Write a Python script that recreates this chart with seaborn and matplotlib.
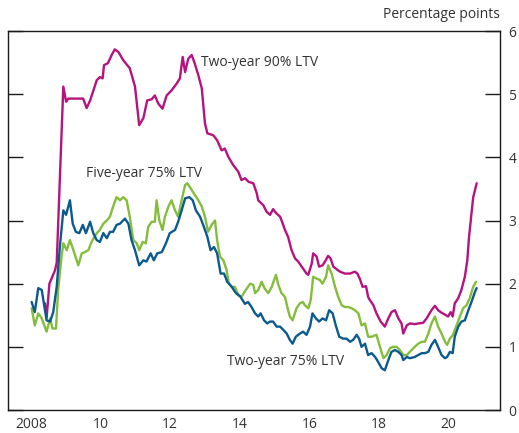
import pandas as pd
import matplotlib.pyplot as plt
import seaborn as sns

# Two-year 90% LTV
years_90 = [2008.40, 2008.45, 2008.53, 2008.69, 2008.74, 2008.93, 2009.01, 2009.07, 2009.50, 2009.60,
            2009.70, 2009.89, 2009.98, 2010.06, 2010.10, 2010.21, 2010.32, 2010.41, 2010.51, 2010.65,
            2010.84, 2010.99, 2011.11, 2011.23, 2011.34, 2011.47, 2011.56, 2011.66, 2011.78, 2011.90,
            2012.04, 2012.19, 2012.28, 2012.36, 2012.43, 2012.52, 2012.62, 2012.71, 2012.81, 2012.91,
            2013.00, 2013.07, 2013.24, 2013.35, 2013.48, 2013.57, 2013.67, 2013.81, 2013.96, 2014.05,
            2014.15, 2014.26, 2014.39, 2014.49, 2014.53, 2014.68, 2014.77, 2014.87, 2014.96, 2015.04,
            2015.16, 2015.23, 2015.30, 2015.39, 2015.49, 2015.59, 2015.68, 2015.78, 2015.92, 2015.97,
            2016.07, 2016.11, 2016.21, 2016.28, 2016.38, 2016.45, 2016.54, 2016.61, 2016.69, 2016.78,
            2016.88, 2017.02, 2017.17, 2017.31, 2017.38, 2017.45, 2017.53, 2017.63, 2017.69, 2017.74,
            2017.84, 2017.93, 2018.05, 2018.17, 2018.27, 2018.36, 2018.46, 2018.56, 2018.65, 2018.70,
            2018.80, 2018.89, 2019.03, 2019.13, 2019.27, 2019.37, 2019.51, 2019.61, 2019.70, 2019.80,
            2019.93, 2019.99, 2020.06, 2020.12, 2020.18, 2020.28, 2020.37, 2020.47, 2020.54, 2020.59,
            2020.66, 2020.71, 2020.81]
spread_90 = [1.69, 1.46, 2.00, 2.21, 2.33, 5.12, 4.88, 4.93, 4.93, 4.78,
             4.90, 5.22, 5.27, 5.25, 5.46, 5.49, 5.62, 5.71, 5.67, 5.54,
             5.41, 5.12, 4.51, 4.62, 4.90, 4.92, 4.98, 4.85, 4.77, 4.98,
             5.06, 5.17, 5.25, 5.59, 5.35, 5.56, 5.62, 5.48, 5.30, 5.09,
             4.54, 4.38, 4.35, 4.27, 4.11, 4.14, 4.01, 3.88, 3.77, 3.64,
             3.67, 3.61, 3.59, 3.43, 3.32, 3.24, 3.14, 3.09, 3.18, 3.12,
             3.06, 2.96, 2.85, 2.74, 2.53, 2.40, 2.35, 2.27, 2.16, 2.14,
             2.32, 2.48, 2.43, 2.27, 2.29, 2.35, 2.44, 2.40, 2.27, 2.23,
             2.19, 2.16, 2.16, 2.19, 2.16, 2.08, 1.95, 1.96, 1.79, 1.74,
             1.66, 1.53, 1.40, 1.32, 1.45, 1.55, 1.58, 1.45, 1.37, 1.21,
             1.34, 1.37, 1.36, 1.37, 1.38, 1.45, 1.58, 1.65, 1.58, 1.54,
             1.50, 1.48, 1.55, 1.48, 1.69, 1.77, 1.90, 2.11, 2.37, 2.74,
             3.11, 3.37, 3.59]

# Five-year 75% LTV
years_5y = [2008.02, 2008.11, 2008.21, 2008.31, 2008.45, 2008.55, 2008.62, 2008.72, 2008.78, 2008.88,
            2008.93, 2009.03, 2009.12, 2009.22, 2009.36, 2009.46, 2009.55, 2009.65, 2009.74, 2009.89,
            2009.98, 2010.08, 2010.18, 2010.27, 2010.36, 2010.46, 2010.56, 2010.65, 2010.75, 2010.84,
            2010.94, 2011.04, 2011.11, 2011.21, 2011.30, 2011.37, 2011.47, 2011.56, 2011.61, 2011.69,
            2011.78, 2011.85, 2011.95, 2012.04, 2012.14, 2012.23, 2012.33, 2012.43, 2012.49, 2012.59,
            2012.68, 2012.81, 2012.91, 2013.00, 2013.09, 2013.19, 2013.29, 2013.35, 2013.43, 2013.53,
            2013.62, 2013.69, 2013.77, 2013.86, 2013.96, 2014.05, 2014.15, 2014.30, 2014.39, 2014.44,
            2014.53, 2014.63, 2014.72, 2014.82, 2014.92, 2015.04, 2015.11, 2015.20, 2015.30, 2015.39,
            2015.44, 2015.52, 2015.63, 2015.73, 2015.81, 2015.87, 2015.97, 2016.04, 2016.11, 2016.21,
            2016.30, 2016.38, 2016.48, 2016.54, 2016.64, 2016.74, 2016.83, 2016.93, 2017.02, 2017.12,
            2017.22, 2017.31, 2017.41, 2017.50, 2017.60, 2017.69, 2017.79, 2017.93, 2018.03, 2018.13,
            2018.22, 2018.32, 2018.41, 2018.51, 2018.60, 2018.70, 2018.80, 2018.89, 2019.03, 2019.13,
            2019.23, 2019.32, 2019.42, 2019.51, 2019.61, 2019.70, 2019.80, 2019.90, 2019.96, 2020.04,
            2020.13, 2020.23, 2020.33, 2020.42, 2020.52, 2020.61, 2020.71, 2020.79]
spread_5y = [1.61, 1.34, 1.53, 1.45, 1.24, 1.45, 1.29, 1.29, 1.90, 2.43,
             2.64, 2.53, 2.69, 2.53, 2.29, 2.48, 2.50, 2.53, 2.66, 2.80,
             2.85, 2.95, 3.00, 3.06, 3.22, 3.37, 3.32, 3.37, 3.32, 3.06,
             2.69, 2.64, 2.53, 2.66, 2.64, 2.90, 2.98, 2.98, 3.32, 3.00,
             2.85, 3.06, 3.22, 3.32, 3.16, 3.06, 3.32, 3.56, 3.59, 3.51,
             3.43, 3.32, 3.22, 3.06, 2.82, 2.93, 3.00, 2.69, 2.43, 2.37,
             2.22, 2.00, 1.95, 1.95, 1.82, 1.79, 1.88, 2.00, 1.98, 1.85,
             1.90, 2.03, 1.92, 1.85, 1.95, 2.14, 1.98, 1.85, 1.79, 1.58,
             1.48, 1.42, 1.61, 1.69, 1.71, 1.66, 1.61, 1.74, 2.11, 2.08,
             2.06, 2.00, 2.11, 2.29, 2.16, 1.95, 1.79, 1.66, 1.63, 1.63,
             1.61, 1.58, 1.53, 1.34, 1.37, 1.16, 1.16, 1.19, 1.00, 0.82,
             0.87, 0.98, 1.00, 1.00, 0.95, 0.87, 0.87, 0.92, 1.00, 1.05,
             1.08, 1.08, 1.21, 1.37, 1.48, 1.32, 1.21, 1.08, 1.03, 1.13,
             1.19, 1.34, 1.48, 1.61, 1.66, 1.77, 1.95, 2.03]

# Two-year 75% LTV
years_75 = [2008.02, 2008.11, 2008.21, 2008.31, 2008.37, 2008.45, 2008.55, 2008.64, 2008.74, 2008.83,
            2008.93, 2009.01, 2009.12, 2009.20, 2009.29, 2009.39, 2009.49, 2009.58, 2009.70, 2009.79,
            2009.89, 2009.98, 2010.08, 2010.18, 2010.27, 2010.36, 2010.46, 2010.56, 2010.70, 2010.80,
            2010.89, 2010.99, 2011.11, 2011.23, 2011.32, 2011.44, 2011.53, 2011.63, 2011.76, 2011.88,
            2011.99, 2012.14, 2012.23, 2012.33, 2012.43, 2012.55, 2012.65, 2012.74, 2012.86, 2012.97,
            2013.07, 2013.16, 2013.26, 2013.35, 2013.45, 2013.55, 2013.64, 2013.77, 2013.89, 2014.01,
            2014.15, 2014.24, 2014.34, 2014.44, 2014.53, 2014.60, 2014.70, 2014.79, 2014.87, 2014.96,
            2015.06, 2015.16, 2015.25, 2015.35, 2015.44, 2015.52, 2015.61, 2015.73, 2015.82, 2015.92,
            2016.02, 2016.09, 2016.19, 2016.28, 2016.38, 2016.48, 2016.57, 2016.67, 2016.76, 2016.86,
            2016.97, 2017.07, 2017.17, 2017.26, 2017.36, 2017.43, 2017.50, 2017.60, 2017.69, 2017.79,
            2017.89, 2017.98, 2018.08, 2018.17, 2018.27, 2018.36, 2018.46, 2018.56, 2018.65, 2018.70,
            2018.80, 2018.89, 2019.03, 2019.13, 2019.23, 2019.32, 2019.42, 2019.51, 2019.61, 2019.70,
            2019.80, 2019.90, 2019.96, 2020.04, 2020.12, 2020.18, 2020.28, 2020.37, 2020.47, 2020.57,
            2020.66, 2020.76, 2020.81]
spread_75 = [1.71, 1.55, 1.93, 1.90, 1.69, 1.42, 1.40, 1.55, 1.95, 2.58,
             3.16, 3.09, 3.32, 2.95, 2.82, 2.80, 2.93, 2.80, 2.98, 2.80,
             2.69, 2.66, 2.80, 2.72, 2.82, 2.82, 2.93, 2.95, 3.03, 2.95,
             2.69, 2.53, 2.29, 2.37, 2.35, 2.48, 2.37, 2.48, 2.50, 2.64,
             2.80, 2.85, 2.98, 3.16, 3.35, 3.37, 3.32, 3.16, 3.06, 2.90,
             2.74, 2.53, 2.58, 2.48, 2.16, 2.16, 2.03, 1.95, 1.85, 1.80,
             1.68, 1.71, 1.63, 1.53, 1.48, 1.53, 1.42, 1.37, 1.40, 1.40,
             1.32, 1.32, 1.27, 1.21, 1.11, 1.05, 1.16, 1.21, 1.24, 1.19,
             1.32, 1.53, 1.45, 1.40, 1.45, 1.42, 1.58, 1.53, 1.34, 1.16,
             1.13, 1.13, 1.08, 1.11, 1.19, 1.13, 1.00, 1.05, 0.87, 0.90,
             0.84, 0.76, 0.66, 0.63, 0.79, 0.92, 0.95, 0.92, 0.87, 0.79,
             0.84, 0.82, 0.84, 0.87, 0.90, 0.90, 0.92, 1.03, 1.11, 1.00,
             0.87, 0.82, 0.84, 0.92, 0.90, 1.16, 1.32, 1.40, 1.42, 1.58,
             1.71, 1.87, 1.93]

series_names = ['Two-year 90% LTV', 'Five-year 75% LTV', 'Two-year 75% LTV']
colors = {'Two-year 90% LTV': '#B5137E',
          'Five-year 75% LTV': '#84BD3B',
          'Two-year 75% LTV': '#0B5A8E'}

df = pd.concat([
    pd.DataFrame({'year': years_90, 'spread': spread_90, 'series': series_names[0]}),
    pd.DataFrame({'year': years_5y, 'spread': spread_5y, 'series': series_names[1]}),
    pd.DataFrame({'year': years_75, 'spread': spread_75, 'series': series_names[2]}),
])

sns.set_style('white')
plt.rcParams['font.family'] = ['Open Sans', 'DejaVu Sans']

fig = plt.figure(figsize=(5.19, 4.33), dpi=100)
ax = fig.add_axes([0.0154, 0.0531, 0.948, 0.8753])

# draw in order so blue ends up on top like the original
for name in series_names:
    sns.lineplot(data=df[df['series'] == name], x='year', y='spread',
                 color=colors[name], linewidth=1.7, ax=ax, legend=False,
                 estimator=None, sort=False)

ax.set_xlim(2007.34, 2021.48)
ax.set_ylim(0, 6)
ax.set_xlabel('')
ax.set_ylabel('')

ax.set_xticks(range(2008, 2021, 2))
ax.set_xticklabels(['2008', '10', '12', '14', '16', '18', '20'])
ax.set_yticks(range(0, 7))

ax.tick_params(axis='x', direction='in', length=9.5, width=1, color='#1a1a1a',
               labelsize=10, pad=5, labelcolor='#333333')
ax.tick_params(axis='y', direction='in', length=10.5, width=1, color='#1a1a1a',
               left=True, right=True, labelleft=False, labelright=True,
               labelsize=10, pad=6, labelcolor='#333333')

for s in ax.spines.values():
    s.set_visible(True)
    s.set_color('#1a1a1a')
    s.set_linewidth(1)

ax.text(1.0, 1.025, 'Percentage points', transform=ax.transAxes,
        ha='right', va='bottom', fontsize=10, color='#333333')

ax.text(2012.9, 5.5, 'Two-year 90% LTV', fontsize=10, color='#333333', va='center')
ax.text(2009.58, 3.75, 'Five-year 75% LTV', fontsize=10, color='#333333', va='center')
ax.text(2013.63, 0.77, 'Two-year 75% LTV', fontsize=10, color='#333333', va='center')

fig.savefig('out.png', dpi=100)
